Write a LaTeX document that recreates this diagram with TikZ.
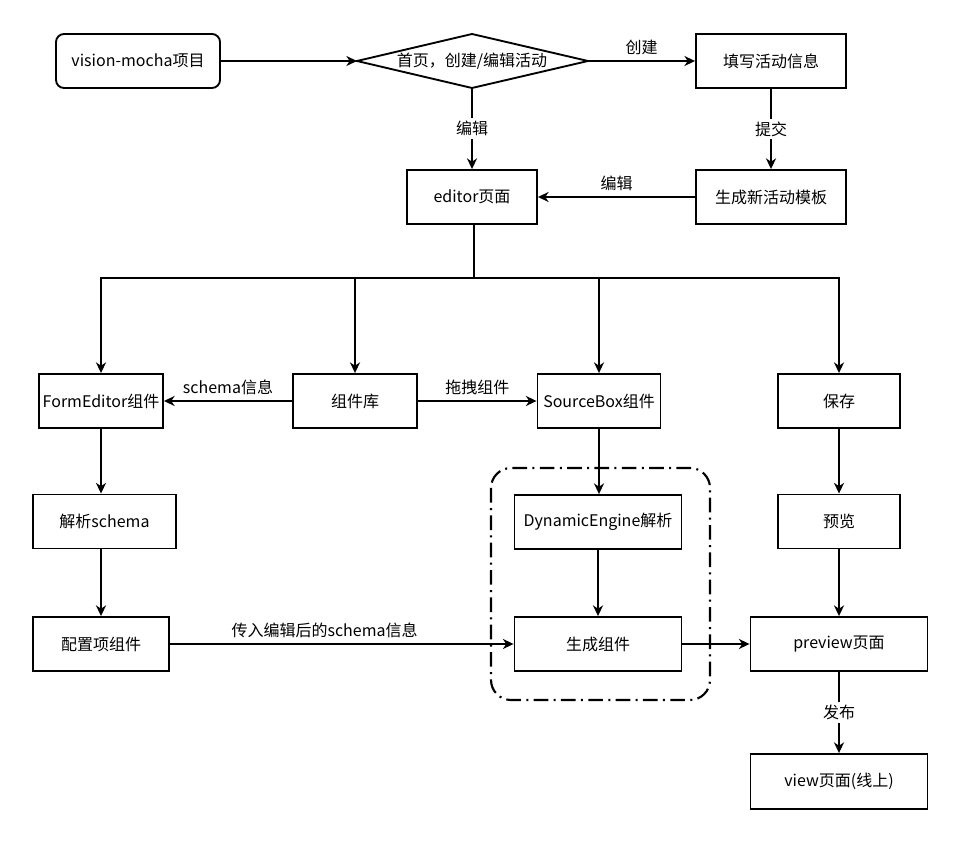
\documentclass[tikz,border=0pt]{standalone}
\usepackage{fontspec}
\setmainfont{Noto Sans CJK SC}
\usetikzlibrary{arrows.meta}
\begin{document}
\begin{tikzpicture}[x=0.75pt,y=-0.75pt,
  every node/.style={font=\fontsize{12}{14}\selectfont},
  bx/.style 2 args={draw, line width=1.4pt, inner sep=0pt,
    minimum width=#1*0.75pt, minimum height=#2*0.75pt},
  arr/.style={line width=1.4pt, -{Stealth[length=8pt,width=7.5pt,inset=2.5pt]}},
  ln/.style={line width=1.4pt},
  lblv/.style={fill=white, inner sep=2pt},
  lblh/.style={above=3.2pt, inner sep=1pt}]
\useasboundingbox[fill=white] (0,0) rectangle (960,852);

% dash-dot group
\draw[line width=1.6pt, rounded corners=15pt,
  dash pattern=on 11pt off 4pt on 1.5pt off 4pt] (491,468) rectangle (710,700);

% nodes
\node[bx={164}{54}, rounded corners=6pt] (vm) at (138,61) {vision-mocha项目};
\coordinate (dl) at (357,61);
\coordinate (dt) at (472,34);
\coordinate (dr) at (588,61);
\coordinate (db) at (472,88);
\draw[ln, line join=miter] (dl) -- (dt) -- (dr) -- (db) -- cycle;
\node (d) at (472,61) {首页，创建/编辑活动};
\node[bx={150}{54}] (fill) at (771,61) {填写活动信息};
\node[bx={130}{54}] (ed) at (472,197) {editor页面};
\node[bx={150}{54}] (gen) at (771,197) {生成新活动模板};
\node[bx={124}{54}] (fe) at (101,401) {FormEditor组件};
\node[bx={124}{54}] (lib) at (355,401) {组件库};
\node[bx={123}{54}] (sb) at (599,401) {SourceBox组件};
\node[bx={122}{54}] (save) at (839,401) {保存};
\node[bx={143}{54}] (parse) at (104.5,521.5) {解析schema};
\node[bx={167}{54}] (de) at (598,522) {DynamicEngine解析};
\node[bx={122}{54}] (pv) at (839,521.5) {预览};
\node[bx={136}{54}] (cfg) at (101,644) {配置项组件};
\node[bx={167}{54}] (gc) at (598,644) {生成组件};
\node[bx={177}{54}] (prev) at (839,644) {preview页面};
\node[bx={177}{55}] (view) at (839,781.5) {view页面(线上)};

% connectors
\draw[arr] (vm) -- (dl);
\draw[arr] (dr) -- node[lblh] {创建} (fill);
\draw[arr] (db) -- node[lblv] {编辑} (ed);
\draw[arr] (fill) -- node[lblv] {提交} (gen);
\draw[arr] (gen) -- node[lblh] {编辑} (ed);

\coordinate (jn) at (474,278);
\draw[ln] (ed.south -| jn) -- (jn);
\draw[arr] (jn) -| (fe);
\draw[arr] (jn) -| (lib);
\draw[arr] (jn) -| (sb);
\draw[arr] (jn) -| (save);

\draw[arr] (lib) -- node[lblh] {schema信息} (fe);
\draw[arr] (lib) -- node[lblh] {拖拽组件} (sb);
\draw[arr] (fe) -- (fe |- parse.north);
\draw[arr] (parse.south -| cfg) -- (cfg);
\draw[arr] (cfg) -- node[lblh, pos=0.45] {传入编辑后的schema信息} (gc);
\draw[arr] (sb) -- (sb |- de.north);
\draw[arr] (de) -- (gc);
\draw[arr] (gc) -- (prev);
\draw[arr] (save) -- (pv);
\draw[arr] (pv) -- (pv |- prev.north);
\draw[arr] (prev) -- node[lblv] {发布} (view);
\end{tikzpicture}
\end{document}
